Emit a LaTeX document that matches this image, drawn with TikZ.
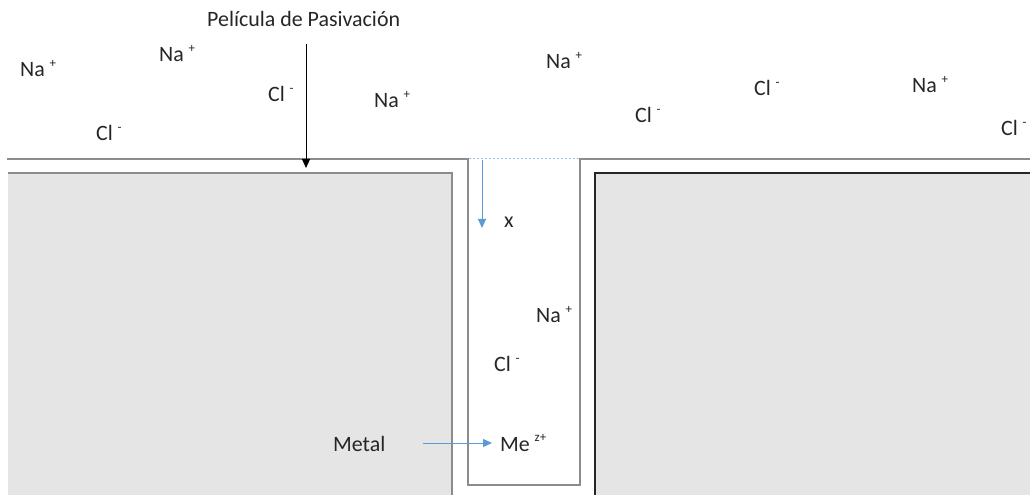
\documentclass[tikz,border=0pt]{standalone}
\usepackage{fontspec}
\setmainfont{Carlito}
\usetikzlibrary{arrows.meta}
\definecolor{metalfill}{HTML}{E5E5E5}
\definecolor{filmgray}{HTML}{8C8C8C}
\definecolor{blockdark}{HTML}{262626}
\definecolor{arrowblue}{HTML}{5B9BD5}
\definecolor{dotblue}{HTML}{9DC3E6}
\newcommand{\ionsup}[2]{#1\hspace{0.22em}\raisebox{0.42em}{\fontsize{13}{13}\selectfont #2}}
\tikzset{
  lbl/.style={anchor=base west, inner sep=0pt, font=\fontsize{22}{26}\selectfont, text=black!85},
  filmline/.style={draw=filmgray, line width=1.5bp},
  blockline/.style={line width=1.5bp},
  bluearrow/.style={draw=arrowblue, line width=1bp, -{Triangle[length=9bp,width=8bp]}},
  blackarrow/.style={draw=black, line width=1bp, -{Triangle[length=9bp,width=8bp]}}
}
\begin{document}
\begin{tikzpicture}[x=1bp,y=-1bp]
\useasboundingbox (0,0) rectangle (1030,495);
% metal blocks
\fill[metalfill] (8,173) rectangle (452,495);
\draw[blockline, draw=filmgray] (8,173) -- (452,173) -- (452,495);
\fill[metalfill] (595,173) rectangle (1030,495);
\draw[blockline, draw=blockdark] (595,495) -- (595,173) -- (1030,173);
% passivation film
\draw[filmline] (7,159) -- (468,159) -- (468,485) -- (580,485) -- (580,159) -- (1030,159);
\draw[draw=dotblue, line width=1bp, dash pattern=on 2bp off 2bp] (469,159) -- (579,159);
% labels
\node[lbl] (title) at (207,27) {Película de Pasivación};
\node[lbl] (na1) at (20,77) {\ionsup{Na}{+}};
\node[lbl] (na2) at (159,62) {\ionsup{Na}{+}};
\node[lbl] (cl1) at (268,102) {\ionsup{Cl}{-}};
\node[lbl] (na3) at (374,108) {\ionsup{Na}{+}};
\node[lbl] (cl2) at (96,141) {\ionsup{Cl}{-}};
\node[lbl] (na4) at (546,69) {\ionsup{Na}{+}};
\node[lbl] (cl3) at (635,123) {\ionsup{Cl}{-}};
\node[lbl] (cl4) at (754,96) {\ionsup{Cl}{-}};
\node[lbl] (na5) at (912,93) {\ionsup{Na}{+}};
\node[lbl] (cl5) at (1001,136) {\ionsup{Cl}{-}};
\node[lbl] (xlab) at (504,228) {x};
\node[lbl] (na6) at (536,323) {\ionsup{Na}{+}};
\node[lbl] (cl6) at (494,372) {\ionsup{Cl}{-}};
\node[lbl] (metal) at (333,451) {Metal};
\node[lbl] (me) at (500,451) {\ionsup{Me}{z+}};
% arrows
\coordinate (filmstart) at (306,44);
\coordinate (filmend) at (306,168);
\draw[blackarrow] (filmstart) -- (filmend);
\coordinate (xstart) at (482,160);
\coordinate (xend) at (482,228);
\draw[bluearrow] (xstart) -- (xend);
\coordinate (metalstart) at (423,443);
\coordinate (metalend) at (492,443);
\draw[bluearrow] (metalstart) -- (metalend);
\end{tikzpicture}
\end{document}
